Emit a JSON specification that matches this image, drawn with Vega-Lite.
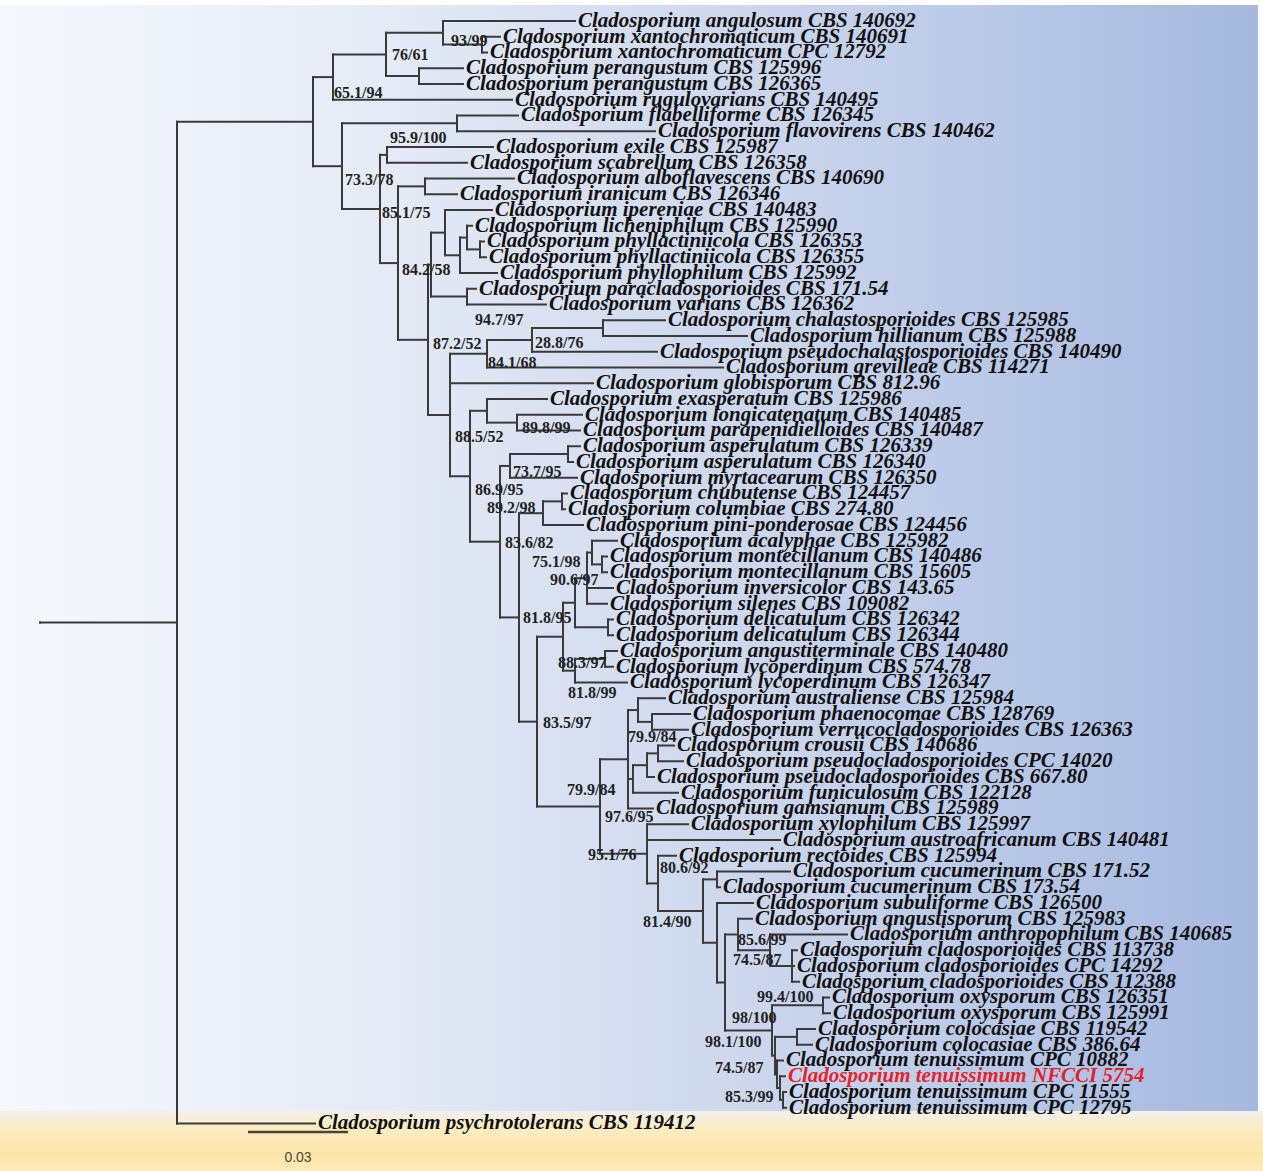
{
  "$schema": "https://vega.github.io/schema/vega-lite/v6.json",
  "width": 1263,
  "height": 1171,
  "autosize": {"type": "fit", "contains": "padding"},
  "padding": 0,
  "background": "#ffffff",
  "config": {"view": {"stroke": null}},
  "datasets": {
    "nodes": [
      {"id": "O", "parent": null, "x": 0, "y": 38.195},
      {"id": "R", "parent": "O", "x": 0.0411, "y": 38.195},
      {"id": "I", "parent": "R", "x": 0.0819, "y": 6.390},
      {"id": "T", "parent": "I", "x": 0.0879, "y": 3.5625},
      {"id": "U", "parent": "T", "x": 0.1038, "y": 2.125},
      {"id": "V", "parent": "U", "x": 0.1209, "y": 0.75},
      {"id": "X", "parent": "V", "x": 0.1326, "y": 1.5},
      {"id": "W", "parent": "U", "x": 0.1137, "y": 3.5},
      {"id": "Na", "parent": "I", "x": 0.0906, "y": 9.218},
      {"id": "FF", "parent": "Na", "x": 0.1251, "y": 6.5},
      {"id": "B", "parent": "Na", "x": 0.1020, "y": 11.936},
      {"id": "ES", "parent": "B", "x": 0.1041, "y": 8.5},
      {"id": "C", "parent": "B", "x": 0.1074, "y": 15.371},
      {"id": "AI", "parent": "C", "x": 0.1155, "y": 10.5},
      {"id": "C2", "parent": "C", "x": 0.1164, "y": 20.242},
      {"id": "DP", "parent": "C2", "x": 0.1173, "y": 15.469},
      {"id": "D", "parent": "DP", "x": 0.1215, "y": 13.4375},
      {"id": "E", "parent": "D", "x": 0.1260, "y": 14.875},
      {"id": "F", "parent": "E", "x": 0.1281, "y": 13.75},
      {"id": "G", "parent": "F", "x": 0.1320, "y": 14.5},
      {"id": "PV", "parent": "DP", "x": 0.1281, "y": 17.5},
      {"id": "K", "parent": "C2", "x": 0.1230, "y": 25.015},
      {"id": "L", "parent": "K", "x": 0.1341, "y": 21.125},
      {"id": "M", "parent": "L", "x": 0.1476, "y": 20.25},
      {"id": "N", "parent": "M", "x": 0.1689, "y": 19.5},
      {"id": "Q", "parent": "K", "x": 0.1290, "y": 28.905},
      {"id": "S", "parent": "Q", "x": 0.1341, "y": 24.75},
      {"id": "T2", "parent": "S", "x": 0.1431, "y": 25.5},
      {"id": "R2", "parent": "Q", "x": 0.1380, "y": 33.059},
      {"id": "AM", "parent": "R2", "x": 0.1410, "y": 28.25},
      {"id": "AA", "parent": "AM", "x": 0.1584, "y": 27.5},
      {"id": "R3", "parent": "R2", "x": 0.1437, "y": 37.868},
      {"id": "CP", "parent": "R3", "x": 0.1509, "y": 31.25},
      {"id": "CC", "parent": "CP", "x": 0.1566, "y": 30.5},
      {"id": "R4", "parent": "R3", "x": 0.1491, "y": 44.485},
      {"id": "X1", "parent": "R4", "x": 0.1569, "y": 39.094},
      {"id": "X2", "parent": "X1", "x": 0.1605, "y": 36.9375},
      {"id": "X3", "parent": "X2", "x": 0.1641, "y": 35.375},
      {"id": "X4", "parent": "X3", "x": 0.1656, "y": 33.75},
      {"id": "MM", "parent": "X4", "x": 0.1686, "y": 34.5},
      {"id": "DEL", "parent": "X2", "x": 0.1704, "y": 38.5},
      {"id": "Y1", "parent": "X1", "x": 0.1605, "y": 41.25},
      {"id": "Y2", "parent": "Y1", "x": 0.1695, "y": 40.5},
      {"id": "Z", "parent": "R4", "x": 0.1680, "y": 49.877},
      {"id": "Z1", "parent": "Z", "x": 0.1764, "y": 46.875},
      {"id": "Z2", "parent": "Z1", "x": 0.1794, "y": 43.75},
      {"id": "Z3", "parent": "Z2", "x": 0.1836, "y": 44.5},
      {"id": "Z5", "parent": "Z1", "x": 0.1779, "y": 48.125},
      {"id": "Z6", "parent": "Z5", "x": 0.1821, "y": 47.25},
      {"id": "Z7", "parent": "Z6", "x": 0.1854, "y": 46.5},
      {"id": "W1", "parent": "Z", "x": 0.1821, "y": 52.878},
      {"id": "W2", "parent": "W1", "x": 0.1854, "y": 54.756},
      {"id": "W3", "parent": "W2", "x": 0.1989, "y": 56.512},
      {"id": "CU", "parent": "W3", "x": 0.2031, "y": 54.5},
      {"id": "W4", "parent": "W3", "x": 0.2031, "y": 58.523},
      {"id": "W5", "parent": "W4", "x": 0.2055, "y": 61.047},
      {"id": "W6", "parent": "W5", "x": 0.2094, "y": 58},
      {"id": "W7", "parent": "W6", "x": 0.2190, "y": 59},
      {"id": "W8", "parent": "W7", "x": 0.2256, "y": 60},
      {"id": "W9", "parent": "W5", "x": 0.2196, "y": 64.094},
      {"id": "W10", "parent": "W9", "x": 0.2349, "y": 62.5},
      {"id": "W11", "parent": "W9", "x": 0.2205, "y": 65.688},
      {"id": "COL", "parent": "W11", "x": 0.2271, "y": 64.5},
      {"id": "TN1", "parent": "W11", "x": 0.2211, "y": 66.875},
      {"id": "TN2", "parent": "TN1", "x": 0.2220, "y": 67.75},
      {"id": "TN3", "parent": "TN2", "x": 0.2229, "y": 68.5},
      {"id": "t0", "parent": "V", "x": 0.1605, "y": 0, "name": "Cladosporium angulosum CBS 140692"},
      {"id": "t1", "parent": "X", "x": 0.1380, "y": 1, "name": "Cladosporium xantochromaticum CBS 140691"},
      {"id": "t2", "parent": "X", "x": 0.1341, "y": 2, "name": "Cladosporium xantochromaticum CPC 12792"},
      {"id": "t3", "parent": "W", "x": 0.1269, "y": 3, "name": "Cladosporium perangustum CBS 125996"},
      {"id": "t4", "parent": "W", "x": 0.1269, "y": 4, "name": "Cladosporium perangustum CBS 126365"},
      {"id": "t5", "parent": "T", "x": 0.1416, "y": 5, "name": "Cladosporium rugulovarians CBS 140495"},
      {"id": "t6", "parent": "FF", "x": 0.1434, "y": 6, "name": "Cladosporium flabelliforme CBS 126345"},
      {"id": "t7", "parent": "FF", "x": 0.1845, "y": 7, "name": "Cladosporium flavovirens CBS 140462"},
      {"id": "t8", "parent": "ES", "x": 0.1359, "y": 8, "name": "Cladosporium exile CBS 125987"},
      {"id": "t9", "parent": "ES", "x": 0.1281, "y": 9, "name": "Cladosporium scabrellum CBS 126358"},
      {"id": "t10", "parent": "AI", "x": 0.1422, "y": 10, "name": "Cladosporium alboflavescens CBS 140690"},
      {"id": "t11", "parent": "AI", "x": 0.1251, "y": 11, "name": "Cladosporium iranicum CBS 126346"},
      {"id": "t12", "parent": "D", "x": 0.1356, "y": 12, "name": "Cladosporium ipereniae CBS 140483"},
      {"id": "t13", "parent": "F", "x": 0.1296, "y": 13, "name": "Cladosporium licheniphilum CBS 125990"},
      {"id": "t14", "parent": "G", "x": 0.1332, "y": 14, "name": "Cladosporium phyllactiniicola CBS 126353"},
      {"id": "t15", "parent": "G", "x": 0.1338, "y": 15, "name": "Cladosporium phyllactiniicola CBS 126355"},
      {"id": "t16", "parent": "E", "x": 0.1371, "y": 16, "name": "Cladosporium phyllophilum CBS 125992"},
      {"id": "t17", "parent": "PV", "x": 0.1308, "y": 17, "name": "Cladosporium paracladosporioides CBS 171.54"},
      {"id": "t18", "parent": "PV", "x": 0.1518, "y": 18, "name": "Cladosporium varians CBS 126362"},
      {"id": "t19", "parent": "N", "x": 0.1875, "y": 19, "name": "Cladosporium chalastosporioides CBS 125985"},
      {"id": "t20", "parent": "N", "x": 0.2121, "y": 20, "name": "Cladosporium hillianum CBS 125988"},
      {"id": "t21", "parent": "M", "x": 0.1851, "y": 21, "name": "Cladosporium pseudochalastosporioides CBS 140490"},
      {"id": "t22", "parent": "L", "x": 0.2049, "y": 22, "name": "Cladosporium grevilleae CBS 114271"},
      {"id": "t23", "parent": "K", "x": 0.1659, "y": 23, "name": "Cladosporium globisporum CBS 812.96"},
      {"id": "t24", "parent": "S", "x": 0.1521, "y": 24, "name": "Cladosporium exasperatum CBS 125986"},
      {"id": "t25", "parent": "T2", "x": 0.1626, "y": 25, "name": "Cladosporium longicatenatum CBS 140485"},
      {"id": "t26", "parent": "T2", "x": 0.1620, "y": 26, "name": "Cladosporium parapenidielloides CBS 140487"},
      {"id": "t27", "parent": "AA", "x": 0.1620, "y": 27, "name": "Cladosporium asperulatum CBS 126339"},
      {"id": "t28", "parent": "AA", "x": 0.1599, "y": 28, "name": "Cladosporium asperulatum CBS 126340"},
      {"id": "t29", "parent": "AM", "x": 0.1611, "y": 29, "name": "Cladosporium myrtacearum CBS 126350"},
      {"id": "t30", "parent": "CC", "x": 0.1581, "y": 30, "name": "Cladosporium chubutense CBS 124457"},
      {"id": "t31", "parent": "CC", "x": 0.1575, "y": 31, "name": "Cladosporium columbiae CBS 274.80"},
      {"id": "t32", "parent": "CP", "x": 0.1629, "y": 32, "name": "Cladosporium pini-ponderosae CBS 124456"},
      {"id": "t33", "parent": "X4", "x": 0.1731, "y": 33, "name": "Cladosporium acalyphae CBS 125982"},
      {"id": "t34", "parent": "MM", "x": 0.1701, "y": 34, "name": "Cladosporium montecillanum CBS 140486"},
      {"id": "t35", "parent": "MM", "x": 0.1701, "y": 35, "name": "Cladosporium montecillanum CBS 15605"},
      {"id": "t36", "parent": "X3", "x": 0.1719, "y": 36, "name": "Cladosporium inversicolor CBS 143.65"},
      {"id": "t37", "parent": "X3", "x": 0.1701, "y": 37, "name": "Cladosporium silenes CBS 109082"},
      {"id": "t38", "parent": "DEL", "x": 0.1719, "y": 38, "name": "Cladosporium delicatulum CBS 126342"},
      {"id": "t39", "parent": "DEL", "x": 0.1719, "y": 39, "name": "Cladosporium delicatulum CBS 126344"},
      {"id": "t40", "parent": "Y2", "x": 0.1731, "y": 40, "name": "Cladosporium angustiterminale CBS 140480"},
      {"id": "t41", "parent": "Y2", "x": 0.1719, "y": 41, "name": "Cladosporium lycoperdinum CBS 574.78"},
      {"id": "t42", "parent": "Y1", "x": 0.1761, "y": 42, "name": "Cladosporium lycoperdinum CBS 126347"},
      {"id": "t43", "parent": "Z2", "x": 0.1875, "y": 43, "name": "Cladosporium australiense CBS 125984"},
      {"id": "t44", "parent": "Z3", "x": 0.1950, "y": 44, "name": "Cladosporium phaenocomae CBS 128769"},
      {"id": "t45", "parent": "Z3", "x": 0.1944, "y": 45, "name": "Cladosporium verrucocladosporioides CBS 126363"},
      {"id": "t46", "parent": "Z7", "x": 0.1902, "y": 46, "name": "Cladosporium crousii CBS 140686"},
      {"id": "t47", "parent": "Z7", "x": 0.1929, "y": 47, "name": "Cladosporium pseudocladosporioides CPC 14020"},
      {"id": "t48", "parent": "Z6", "x": 0.1842, "y": 48, "name": "Cladosporium pseudocladosporioides CBS 667.80"},
      {"id": "t49", "parent": "Z5", "x": 0.1914, "y": 49, "name": "Cladosporium funiculosum CBS 122128"},
      {"id": "t50", "parent": "Z1", "x": 0.1839, "y": 50, "name": "Cladosporium gamsianum CBS 125989"},
      {"id": "t51", "parent": "W1", "x": 0.1944, "y": 51, "name": "Cladosporium xylophilum CBS 125997"},
      {"id": "t52", "parent": "W1", "x": 0.2220, "y": 52, "name": "Cladosporium austroafricanum CBS 140481"},
      {"id": "t53", "parent": "W2", "x": 0.1908, "y": 53, "name": "Cladosporium rectoides CBS 125994"},
      {"id": "t54", "parent": "CU", "x": 0.2250, "y": 54, "name": "Cladosporium cucumerinum CBS 171.52"},
      {"id": "t55", "parent": "CU", "x": 0.2040, "y": 55, "name": "Cladosporium cucumerinum CBS 173.54"},
      {"id": "t56", "parent": "W4", "x": 0.2139, "y": 56, "name": "Cladosporium subuliforme CBS 126500"},
      {"id": "t57", "parent": "W6", "x": 0.2136, "y": 57, "name": "Cladosporium angustisporum CBS 125983"},
      {"id": "t58", "parent": "W7", "x": 0.2421, "y": 58, "name": "Cladosporium anthropophilum CBS 140685"},
      {"id": "t59", "parent": "W8", "x": 0.2271, "y": 59, "name": "Cladosporium cladosporioides CBS 113738"},
      {"id": "t60", "parent": "W8", "x": 0.2262, "y": 60, "name": "Cladosporium cladosporioides CPC 14292"},
      {"id": "t61", "parent": "W8", "x": 0.2277, "y": 61, "name": "Cladosporium cladosporioides CBS 112388"},
      {"id": "t62", "parent": "W10", "x": 0.2367, "y": 62, "name": "Cladosporium oxysporum CBS 126351"},
      {"id": "t63", "parent": "W10", "x": 0.2370, "y": 63, "name": "Cladosporium oxysporum CBS 125991"},
      {"id": "t64", "parent": "COL", "x": 0.2325, "y": 64, "name": "Cladosporium colocasiae CBS 119542"},
      {"id": "t65", "parent": "COL", "x": 0.2316, "y": 65, "name": "Cladosporium colocasiae CBS 386.64"},
      {"id": "t66", "parent": "TN1", "x": 0.2229, "y": 66, "name": "Cladosporium tenuissimum CPC 10882"},
      {"id": "t67", "parent": "TN2", "x": 0.2235, "y": 67, "name": "Cladosporium tenuissimum NFCCI 5754", "focal": true},
      {"id": "t68", "parent": "TN3", "x": 0.2238, "y": 68, "name": "Cladosporium tenuissimum CPC 11555"},
      {"id": "t69", "parent": "TN3", "x": 0.2238, "y": 69, "name": "Cladosporium tenuissimum CPC 12795"},
      {"id": "t70", "parent": "R", "x": 0.0825, "y": 70, "name": "Cladosporium psychrotolerans CBS 119412"}
    ],
    "support": [
      {"v": "93/99", "x": 0.1233, "y": 1.27},
      {"v": "76/61", "x": 0.1056, "y": 2.16},
      {"v": "65.1/94", "x": 0.0882, "y": 4.57},
      {"v": "95.9/100", "x": 0.1050, "y": 7.43},
      {"v": "73.3/78", "x": 0.0915, "y": 10.1},
      {"v": "85.1/75", "x": 0.1026, "y": 12.19},
      {"v": "84.2/58", "x": 0.1086, "y": 15.81},
      {"v": "94.7/97", "x": 0.1305, "y": 18.98},
      {"v": "87.2/52", "x": 0.1179, "y": 20.5},
      {"v": "28.8/76", "x": 0.1485, "y": 20.44},
      {"v": "84.1/68", "x": 0.1344, "y": 21.71},
      {"v": "89.8/99", "x": 0.1446, "y": 25.84},
      {"v": "88.5/52", "x": 0.1245, "y": 26.41},
      {"v": "73.7/95", "x": 0.1419, "y": 28.63},
      {"v": "86.9/95", "x": 0.1305, "y": 29.78},
      {"v": "89.2/98", "x": 0.1341, "y": 30.92},
      {"v": "83.6/82", "x": 0.1395, "y": 33.14},
      {"v": "75.1/98", "x": 0.1476, "y": 34.35},
      {"v": "90.6/97", "x": 0.1530, "y": 35.49},
      {"v": "81.8/95", "x": 0.1449, "y": 37.9},
      {"v": "88.3/97", "x": 0.1554, "y": 40.76},
      {"v": "81.8/99", "x": 0.1584, "y": 42.67},
      {"v": "83.5/97", "x": 0.1509, "y": 44.57},
      {"v": "79.9/84", "x": 0.1764, "y": 45.46},
      {"v": "79.9/84", "x": 0.1581, "y": 48.83},
      {"v": "97.6/95", "x": 0.1695, "y": 50.54},
      {"v": "95.1/76", "x": 0.1644, "y": 52.95},
      {"v": "80.6/92", "x": 0.1860, "y": 53.78},
      {"v": "81.4/90", "x": 0.1809, "y": 57.21},
      {"v": "85.6/99", "x": 0.2094, "y": 58.35},
      {"v": "74.5/87", "x": 0.2079, "y": 59.62},
      {"v": "99.4/100", "x": 0.2151, "y": 61.97},
      {"v": "98/100", "x": 0.2076, "y": 63.3},
      {"v": "98.1/100", "x": 0.1995, "y": 64.83},
      {"v": "74.5/87", "x": 0.2025, "y": 66.48},
      {"v": "85.3/99", "x": 0.2055, "y": 68.32}
    ],
    "scalebar": [
      {"from": 0.0624, "to": 0.0924, "y": 70.54, "label": "0.03"}
    ]
  },
  "layer": [
    {
      "data": {"values": [{}]},
      "mark": {
        "type": "rect",
        "color": {
          "gradient": "linear",
          "x1": 0, "y1": 0, "x2": 1, "y2": 0,
          "stops": [
            {"offset": 0, "color": "#f6f8fd"},
            {"offset": 0.3, "color": "#e5ebf6"},
            {"offset": 0.6, "color": "#ccd7ed"},
            {"offset": 0.85, "color": "#b3c4e5"},
            {"offset": 1, "color": "#a5b9df"}
          ]
        }
      },
      "encoding": {
        "x": {"datum": -0.012, "type": "quantitative", "scale": {"domain": [-0.012, 0.3669], "nice": false, "zero": false}, "axis": null},
        "x2": {"datum": 0.3654},
        "y": {"datum": -1.016, "type": "quantitative", "scale": {"domain": [-1.3333, 73.016], "reverse": true, "nice": false, "zero": false}, "axis": null},
        "y2": {"datum": 73.016}
      }
    },
    {
      "data": {"values": [{}]},
      "mark": {
        "type": "rect",
        "color": {
          "gradient": "linear",
          "x1": 0, "y1": 0, "x2": 0, "y2": 1,
          "stops": [
            {"offset": 0, "color": "#f1f0ec"},
            {"offset": 0.25, "color": "#fbedc6"},
            {"offset": 0.7, "color": "#fce5a6"},
            {"offset": 1, "color": "#fdebb9"}
          ]
        }
      },
      "encoding": {
        "x": {"datum": -0.012, "type": "quantitative"},
        "x2": {"datum": 0.3669},
        "y": {"datum": 69.2, "type": "quantitative"},
        "y2": {"datum": 73.016}
      }
    },
    {
      "data": {"name": "nodes"},
      "transform": [
        {"filter": "datum.parent != null"},
        {"lookup": "parent", "from": {"data": {"name": "nodes"}, "key": "id", "fields": ["x"]}, "as": ["px"]}
      ],
      "mark": {"type": "rule", "stroke": "#3a3a3a", "strokeWidth": 2, "strokeCap": "square"},
      "encoding": {
        "x": {"field": "px", "type": "quantitative"},
        "x2": {"field": "x"},
        "y": {"field": "y", "type": "quantitative"}
      }
    },
    {
      "data": {"name": "nodes"},
      "transform": [
        {"filter": "datum.parent != null"},
        {"aggregate": [{"op": "min", "field": "y", "as": "ylo"}, {"op": "max", "field": "y", "as": "yhi"}], "groupby": ["parent"]},
        {"lookup": "parent", "from": {"data": {"name": "nodes"}, "key": "id", "fields": ["x"]}}
      ],
      "mark": {"type": "rule", "stroke": "#3a3a3a", "strokeWidth": 2, "strokeCap": "square"},
      "encoding": {
        "x": {"field": "x", "type": "quantitative"},
        "y": {"field": "ylo", "type": "quantitative"},
        "y2": {"field": "yhi"}
      }
    },
    {
      "data": {"name": "nodes"},
      "transform": [{"filter": "datum.name != null"}],
      "mark": {"type": "text", "align": "left", "baseline": "middle", "dx": 3, "font": "Liberation Serif", "fontSize": 21, "fontStyle": "italic", "fontWeight": "bold"},
      "encoding": {
        "x": {"field": "x", "type": "quantitative"},
        "y": {"field": "y", "type": "quantitative"},
        "text": {"field": "name"},
        "color": {"condition": {"test": "datum.focal === true", "value": "#e3232c"}, "value": "#111111"}
      }
    },
    {
      "data": {"name": "support"},
      "mark": {"type": "text", "align": "left", "baseline": "middle", "font": "Liberation Serif", "fontSize": 16, "fontWeight": "bold", "color": "#222222"},
      "encoding": {
        "x": {"field": "x", "type": "quantitative"},
        "y": {"field": "y", "type": "quantitative"},
        "text": {"field": "v"}
      }
    },
    {
      "data": {"name": "scalebar"},
      "mark": {"type": "rule", "stroke": "#4a4535", "strokeWidth": 2.5},
      "encoding": {
        "x": {"field": "from", "type": "quantitative"},
        "x2": {"field": "to"},
        "y": {"field": "y", "type": "quantitative"}
      }
    },
    {
      "data": {"name": "scalebar"},
      "transform": [{"calculate": "(datum.from + datum.to) / 2", "as": "mid"}],
      "mark": {"type": "text", "align": "center", "baseline": "middle", "dy": 26, "font": "Liberation Sans", "fontSize": 14, "color": "#4a4535"},
      "encoding": {
        "x": {"field": "mid", "type": "quantitative"},
        "y": {"field": "y", "type": "quantitative"},
        "text": {"field": "label"}
      }
    }
  ]
}
